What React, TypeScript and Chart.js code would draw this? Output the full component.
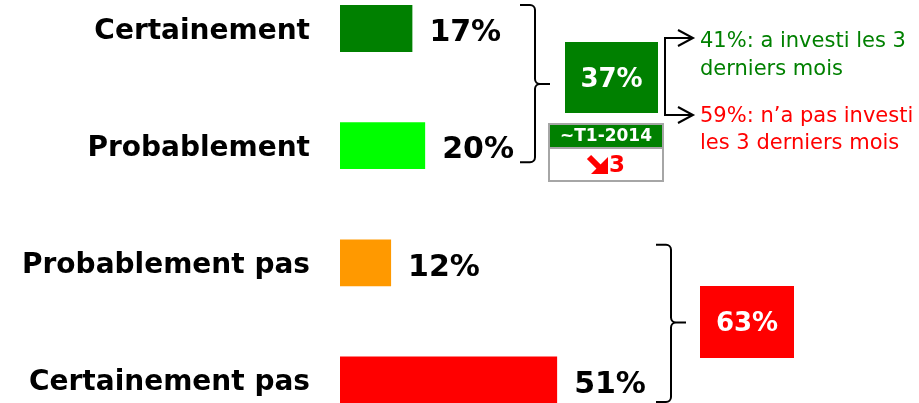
import React, { useEffect, useRef } from "react";
import { Chart, registerables } from "chart.js";

Chart.register(...registerables);

const categories = ["Certainement", "Probablement", "Probablement pas", "Certainement pas"];
const values = [17, 20, 12, 51];
const groupTotals = [37, 63];
const investSplit = [41, 59];
const trendPeriod = "~T1-2014";
const trendChange = [3];

const BAR_COLORS = ["#008000", "#00ff00", "#ff9900", "#ff0000"];
const BOLD = "'DejaVu Sans', Verdana, sans-serif";

function brace(ctx: CanvasRenderingContext2D, xl: number, xv: number, xt: number, yt: number, ym: number, yb: number) {
  const r = 5;
  ctx.beginPath();
  ctx.moveTo(xl, yt);
  ctx.arcTo(xv, yt, xv, ym, r);
  ctx.arcTo(xv, ym, xt, ym, r);
  ctx.lineTo(xt, ym);
  ctx.moveTo(xl, yb);
  ctx.arcTo(xv, yb, xv, ym, r);
  ctx.arcTo(xv, ym, xt, ym, r);
  ctx.lineTo(xt, ym);
  ctx.stroke();
}

const valueLabels = {
  id: "valueLabels",
  afterDatasetsDraw(chart: any) {
    const ctx = chart.ctx as CanvasRenderingContext2D;
    const meta = chart.getDatasetMeta(0);
    ctx.save();
    ctx.font = `bold 30px ${BOLD}`;
    ctx.fillStyle = "#000";
    ctx.textAlign = "left";
    ctx.textBaseline = "middle";
    meta.data.forEach((bar: any, i: number) => {
      ctx.fillText(`${values[i]}%`, bar.x + 17, bar.y + 5);
    });
    ctx.restore();
  },
};

const annotations = {
  id: "annotations",
  afterDraw(chart: any) {
    const ctx = chart.ctx as CanvasRenderingContext2D;
    const y = chart.scales.y;
    const c0 = y.getPixelForValue(0);
    const c1 = y.getPixelForValue(1);
    const c2 = y.getPixelForValue(2);
    const c3 = y.getPixelForValue(3);
    ctx.save();
    ctx.strokeStyle = "#000";
    ctx.lineWidth = 2;
    // braces
    brace(ctx, 520, 535, 550, c0 - 23.5, (c0 + c1) / 2 - 3, c1 + 16.5);
    brace(ctx, 656, 671, 686, c2 - 18, (c2 + c3) / 2 + 1, c3 + 22);

    // 37% box
    ctx.fillStyle = "#008000";
    ctx.fillRect(565, 42, 93, 71);
    ctx.fillStyle = "#fff";
    ctx.font = `bold 26px ${BOLD}`;
    ctx.textAlign = "center";
    ctx.textBaseline = "middle";
    ctx.fillText(`${groupTotals[0]}%`, 611.5, 80);

    // 63% box
    ctx.fillStyle = "#ff0000";
    ctx.fillRect(700, 286, 94, 72);
    ctx.fillStyle = "#fff";
    ctx.fillText(`${groupTotals[1]}%`, 747, 324);

    // connector with arrows
    ctx.beginPath();
    ctx.moveTo(693, 38);
    ctx.lineTo(665, 38);
    ctx.lineTo(665, 115);
    ctx.lineTo(693, 115);
    ctx.stroke();
    [38, 115].forEach((ay) => {
      ctx.beginPath();
      ctx.moveTo(678, ay - 8);
      ctx.lineTo(693, ay);
      ctx.lineTo(678, ay + 8);
      ctx.stroke();
    });

    // side texts
    ctx.font = `21px ${BOLD}`;
    ctx.textAlign = "left";
    ctx.textBaseline = "alphabetic";
    ctx.fillStyle = "#008000";
    ctx.fillText(`${investSplit[0]}%: a investi les 3`, 700, 47);
    ctx.fillText("derniers mois", 700, 75);
    ctx.fillStyle = "#ff0000";
    ctx.fillText(`${investSplit[1]}%: n\u2019a pas investi`, 700, 122);
    ctx.fillText("les 3 derniers mois", 700, 149);

    // trend box
    ctx.fillStyle = "#fff";
    ctx.fillRect(549, 124, 114, 56);
    ctx.fillStyle = "#008000";
    ctx.fillRect(549, 124, 114, 23);
    ctx.strokeStyle = "#a6a6a6";
    ctx.lineWidth = 2;
    ctx.strokeRect(549, 124, 114, 57);
    ctx.beginPath();
    ctx.moveTo(549, 148);
    ctx.lineTo(663, 148);
    ctx.stroke();
    ctx.fillStyle = "#fff";
    ctx.font = `bold 17px ${BOLD}`;
    ctx.textAlign = "center";
    ctx.textBaseline = "middle";
    ctx.fillText(trendPeriod, 606, 136.5);
    // red arrow down-right
    ctx.fillStyle = "#ff0000";
    ctx.strokeStyle = "#ff0000";
    ctx.lineWidth = 6;
    ctx.beginPath();
    ctx.moveTo(589, 157);
    ctx.lineTo(600, 168);
    ctx.stroke();
    ctx.beginPath();
    ctx.moveTo(608, 157);
    ctx.lineTo(608, 174);
    ctx.lineTo(591, 174);
    ctx.closePath();
    ctx.fill();
    ctx.font = `bold 23px ${BOLD}`;
    ctx.textAlign = "left";
    ctx.fillText(`${trendChange[0]}`, 609, 166);
    ctx.restore();
  },
};

export default function App() {
  const ref = useRef<HTMLCanvasElement | null>(null);
  useEffect(() => {
    if (!ref.current) return;
    const chart = new Chart(ref.current, {
      type: "bar",
      data: {
        labels: categories,
        datasets: [
          {
            data: values,
            backgroundColor: BAR_COLORS,
            borderWidth: 0,
            barPercentage: 1,
            categoryPercentage: 0.4,
            clip: false as any,
          },
        ],
      },
      options: {
        indexAxis: "y",
        responsive: false,
        animation: false,
        devicePixelRatio: 1,
        layout: { padding: { top: 28.5, bottom: 23, left: 0, right: 0 } },
        plugins: { legend: { display: false }, tooltip: { enabled: false } },
        scales: {
          x: { display: false, min: 0, max: 136 },
          y: {
            offset: false,
            grid: { display: false, drawTicks: false },
            border: { display: false },
            ticks: {
              color: "#000",
              padding: 30,
              labelOffset: 3,
              font: { family: BOLD, weight: "bold", size: 28 },
            },
            afterFit: (scale: any) => {
              scale.width = 340;
              scale.paddingTop = 0;
              scale.paddingBottom = 0;
            },
          },
        },
      },
      plugins: [valueLabels, annotations],
    });
    return () => chart.destroy();
  }, []);
  return (
    <div style={{ position: "absolute", left: 0, top: 0, width: 919, height: 403, background: "#fff" }}>
      <canvas ref={ref} width={919} height={403} style={{ width: 919, height: 403, display: "block" }} />
    </div>
  );
}
